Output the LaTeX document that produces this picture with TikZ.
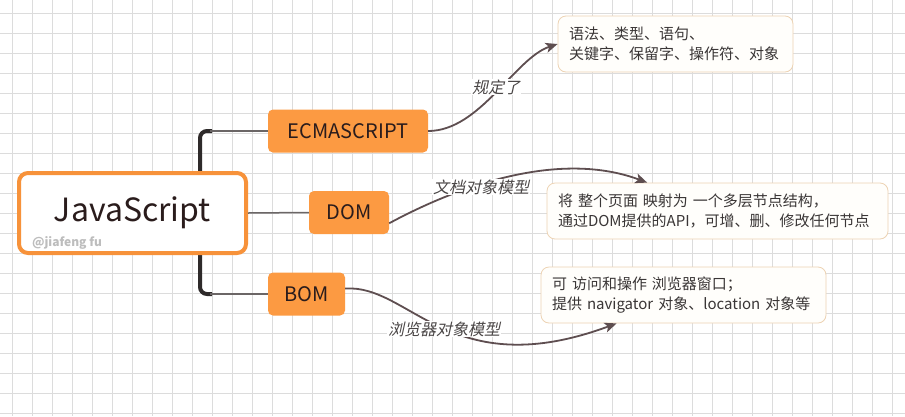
\documentclass[tikz,border=0pt]{standalone}
\usepackage{fontspec}
\setmainfont{Noto Sans CJK SC}
\newfontfamily\slantfont[FakeSlant=0.22]{Noto Sans CJK SC}
\usetikzlibrary{arrows.meta}
\definecolor{gridgray}{HTML}{DCDCDC}
\definecolor{orangefill}{HTML}{FC9A42}
\definecolor{orangeline}{HTML}{F7923A}
\definecolor{topictext}{HTML}{2A1C1C}
\definecolor{descborder}{HTML}{EDD3B4}
\definecolor{descfill}{HTML}{FFFEFB}
\definecolor{desctext}{HTML}{3A3636}
\definecolor{linkcolor}{HTML}{5E4E50}
\definecolor{labeltext}{HTML}{4A4646}
\definecolor{trunkcolor}{HTML}{2E2A2A}
\definecolor{branchcolor}{HTML}{6B6666}
\definecolor{markgray}{HTML}{BDBDBD}
\begin{document}
\begin{tikzpicture}[x=1pt, y=-1pt,
    topic/.style={rectangle, rounded corners=5pt, fill=orangefill, text=topictext, font=\fontsize{20}{24}\selectfont, minimum height=43pt, inner sep=0pt},
    desc/.style={rectangle, rounded corners=8pt, draw=descborder, fill=descfill, line width=0.8pt, text=desctext, font=\fontsize{15}{20}\selectfont, align=left, minimum height=56pt, inner xsep=11pt},
    link/.style={draw=linkcolor, line width=1.8pt, -{Stealth[length=12pt,width=10pt,inset=3pt]}},
    linklabel/.style={fill=white, inner sep=1pt, text=labeltext, font=\slantfont\fontsize{16}{18}\selectfont},
    branch/.style={draw=branchcolor, line width=1.5pt},
    trunk/.style={draw=trunkcolor, line width=4pt, rounded corners=7pt},
    gridline/.style={draw=gridgray, line width=0.8pt}]
    \useasboundingbox[fill=white] (0,0) rectangle (905,416);
    \foreach \x in {12,32,...,892} \draw[gridline] (\x,0) -- (\x,416);
    \foreach \y in {13,33,...,413} \draw[gridline] (0,\y) -- (905,\y);

    \coordinate (trunktop) at (200,131);
    \coordinate (trunkbot) at (200,294);
    \draw[trunk] ([xshift=12pt]trunktop) -- (trunktop) -- (trunkbot) -- ([xshift=12pt]trunkbot);

    \node (js) at (132.5,213) [rectangle, rounded corners=9pt, draw=orangeline, line width=4pt, fill=white, minimum width=227pt, minimum height=80pt, text=topictext, font=\fontsize{32}{36}\selectfont] {JavaScript};
    \node (mark) at (67,243) [text=markgray, font=\bfseries\fontsize{12}{14}\selectfont] {@jiafeng fu};
    \node (ecma) at (348,131) [topic, minimum width=160pt] {ECMASCRIPT};
    \node (dom) at (349,212.5) [topic, minimum width=80pt] {DOM};
    \node (bom) at (306.5,294) [topic, minimum width=77pt] {BOM};

    \node (ecmadesc) at (675.5,44) [desc, text width=213pt] {语法、类型、语句、\\关键字、保留字、操作符、对象};
    \node (domdesc) at (717.5,211) [desc, text width=319pt] {将 整个页面 映射为 一个多层节点结构，\\通过DOM提供的API，可增、删、修改任何节点};
    \node (bomdesc) at (683.5,295) [desc, text width=263pt] {可 访问和操作 浏览器窗口；\\提供 navigator 对象、location 对象等};

    \draw[branch] ([xshift=10pt]trunktop) -- (ecma.west);
    \draw[branch] ([xshift=10pt]trunkbot) -- (bom.west);
    \draw[branch] (js.east) -- (dom.west);

    \draw[link] (ecma.east) .. controls (480,131) and (515,58) .. (ecmadesc.west);
    \draw[link] (dom.-15) .. controls (460,185) and (560,150) .. (domdesc.158);
    \draw[link] (bom.8) .. controls (410,284) and (450,385) .. (bomdesc.203);

    \node (rule) at (496,87) [linklabel] {规定了};
    \node (dommodel) at (481,187) [linklabel] {文档对象模型};
    \node (bommodel) at (444,329) [linklabel] {浏览器对象模型};
\end{tikzpicture}
\end{document}
